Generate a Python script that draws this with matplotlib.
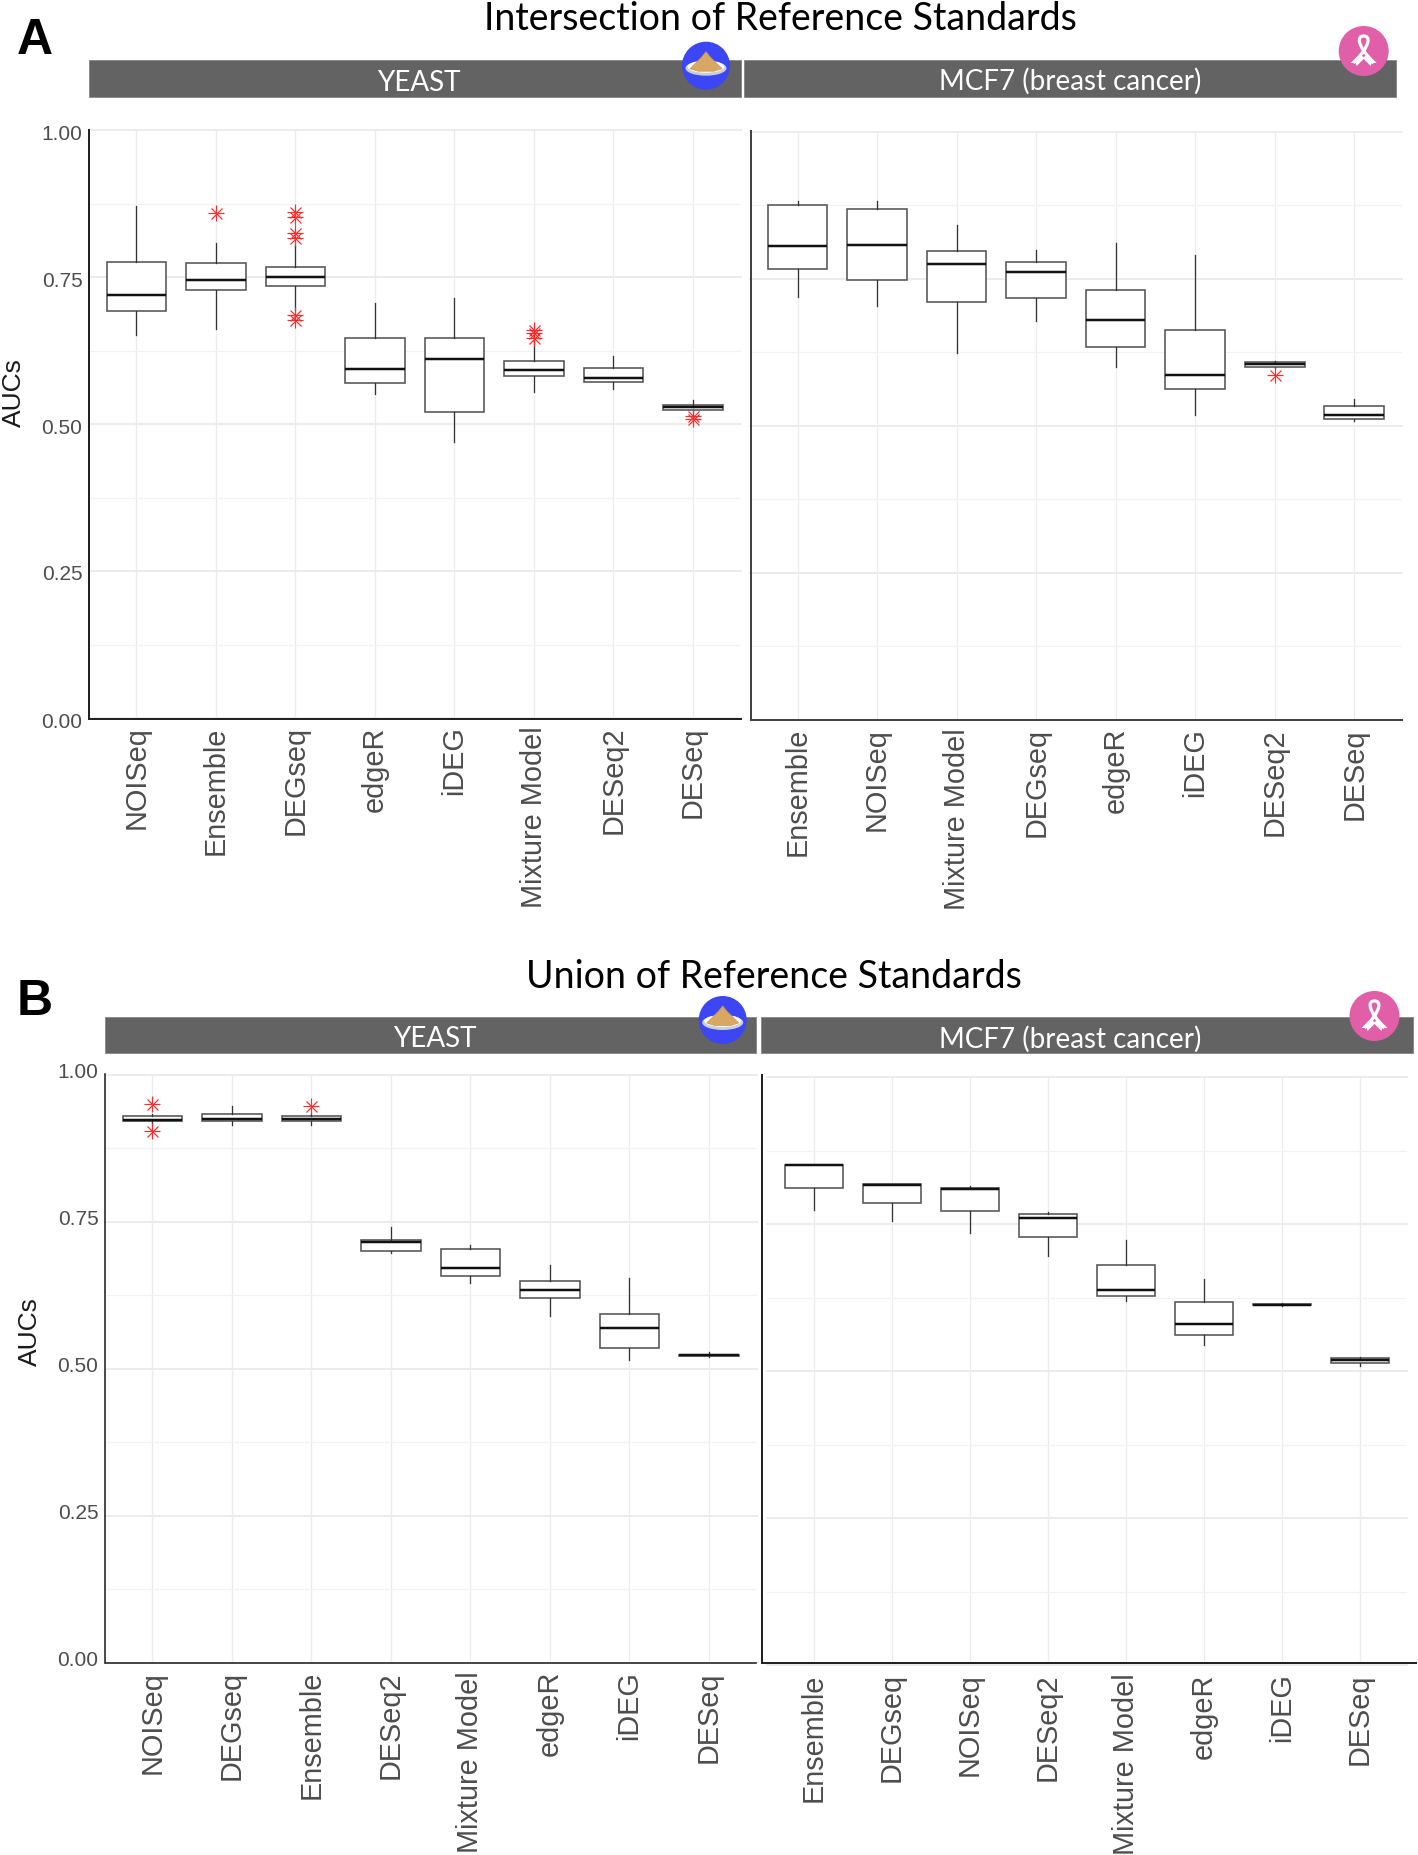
"""
AUC boxplots for the intersection / union reference standards
output: out.png
"""
import matplotlib
matplotlib.use("Agg")
import matplotlib.pyplot as plt
from matplotlib.patches import Circle, Ellipse, Polygon, Rectangle, PathPatch
from matplotlib.path import Path
from matplotlib.transforms import ScaledTranslation

W, H = 1418, 1855
plt.rcParams["font.family"] = ["Liberation Sans", "DejaVu Sans"]

# ── data: intersection, yeast ─────────────────────────────
a_yeast_names = ["NOISeq", "Ensemble", "DEGseq", "edgeR", "iDEG", "Mixture Model", "DESeq2", "DESeq"]
a_yeast_low = [0.651, 0.662, 0.694, 0.551, 0.469, 0.555, 0.559, 0.522]
a_yeast_q1 = [0.693, 0.728, 0.734, 0.570, 0.520, 0.581, 0.571, 0.524]
a_yeast_med = [0.720, 0.745, 0.750, 0.593, 0.611, 0.592, 0.579, 0.529]
a_yeast_q3 = [0.776, 0.773, 0.767, 0.646, 0.647, 0.607, 0.595, 0.533]
a_yeast_high = [0.870, 0.808, 0.805, 0.706, 0.714, 0.643, 0.616, 0.540]
a_yeast_out = [[], [0.858], [0.861, 0.852, 0.824, 0.816, 0.686, 0.677], [], [],
               [0.660, 0.655, 0.646], [], [0.513, 0.508]]

# ── data: intersection, MCF7 ──────────────────────────────
a_mcf_names = ["Ensemble", "NOISeq", "Mixture Model", "DEGseq", "edgeR", "iDEG", "DESeq2", "DESeq"]
a_mcf_low = [0.719, 0.704, 0.624, 0.678, 0.600, 0.519, 0.598, 0.508]
a_mcf_q1 = [0.766, 0.747, 0.710, 0.718, 0.633, 0.562, 0.600, 0.511]
a_mcf_med = [0.805, 0.808, 0.775, 0.761, 0.680, 0.587, 0.605, 0.519]
a_mcf_q3 = [0.876, 0.868, 0.797, 0.779, 0.730, 0.662, 0.608, 0.534]
a_mcf_high = [0.882, 0.882, 0.841, 0.799, 0.810, 0.790, 0.610, 0.546]
a_mcf_out = [[], [], [], [], [], [], [0.587], []]

# ── data: union, yeast ────────────────────────────────────
b_yeast_names = ["NOISeq", "DEGseq", "Ensemble", "DESeq2", "Mixture Model", "edgeR", "iDEG", "DESeq"]
b_yeast_low = [0.917, 0.914, 0.915, 0.696, 0.645, 0.590, 0.515, 0.520]
b_yeast_q1 = [0.921, 0.921, 0.921, 0.700, 0.658, 0.621, 0.535, 0.522]
b_yeast_med = [0.923, 0.925, 0.925, 0.716, 0.671, 0.633, 0.569, 0.523]
b_yeast_q3 = [0.930, 0.934, 0.930, 0.719, 0.704, 0.650, 0.593, 0.524]
b_yeast_high = [0.934, 0.946, 0.934, 0.741, 0.711, 0.676, 0.654, 0.528]
b_yeast_out = [[0.950, 0.904], [], [0.946], [], [], [], [], []]

# ── data: union, MCF7 ─────────────────────────────────────
b_mcf_names = ["Ensemble", "DEGseq", "NOISeq", "DESeq2", "Mixture Model", "edgeR", "iDEG", "DESeq"]
b_mcf_low = [0.774, 0.755, 0.734, 0.695, 0.619, 0.544, 0.611, 0.508]
b_mcf_q1 = [0.812, 0.786, 0.772, 0.728, 0.628, 0.562, 0.612, 0.513]
b_mcf_med = [0.850, 0.817, 0.810, 0.761, 0.637, 0.580, 0.613, 0.518]
b_mcf_q3 = [0.851, 0.818, 0.812, 0.767, 0.680, 0.618, 0.614, 0.522]
b_mcf_high = [0.851, 0.818, 0.814, 0.771, 0.723, 0.657, 0.615, 0.524]
b_mcf_out = [[], [], [], [], [], [], [], []]

y_ticks = [0.0, 0.25, 0.5, 0.75, 1.0]
y_labels = ["0.00", "0.25", "0.50", "0.75", "1.00"]
y_minor = [0.125, 0.375, 0.625, 0.875]

fig = plt.figure(figsize=(W / 100, H / 100), dpi=100, facecolor="white")

PX = 0.72  # one pixel, in points


def panel(x0, x1, y_top, names, low, q1, med, q3, high, out, show_y=False, dy=0):
    y_bot = y_top + 588
    ax = fig.add_axes([x0 / W, 1 - y_bot / H, (x1 - x0) / W, (y_bot - y_top) / H])
    stats = [
        {"whislo": a, "q1": b, "med": c, "q3": d, "whishi": e, "fliers": []}
        for a, b, c, d, e in zip(low, q1, med, q3, high)
    ]
    ax.bxp(stats, positions=range(1, 9), widths=0.75, patch_artist=True, showcaps=False,
           showfliers=False, zorder=3,
           boxprops={"facecolor": "white", "edgecolor": "#555555", "linewidth": 1.6 * PX},
           whiskerprops={"color": "#333333", "linewidth": 1.3 * PX},
           medianprops={"color": "#111111", "linewidth": 2.5 * PX})
    # pch=8 outliers: + and x on top of each other
    for i, vals in enumerate(out):
        if vals:
            xs = [i + 1] * len(vals)
            ax.plot(xs, vals, ls="", marker="+", ms=15.5 * PX, mew=1.2 * PX, color="#ff2a2a", zorder=4)
            ax.plot(xs, vals, ls="", marker="x", ms=11 * PX, mew=1.2 * PX, color="#ff2a2a", zorder=4)

    ax.set_xlim(0.4, 8.6)
    ax.set_ylim(0, 1)
    ax.set_xticks(range(1, 9))
    ax.set_xticklabels(names, rotation=90, fontsize=20.8, color="#4d4d4d")
    ax.set_yticks(y_ticks)
    ax.set_yticks(y_minor, minor=True)
    ax.grid(axis="x", color="#ececec", linewidth=1.3 * PX, zorder=0)
    ax.grid(axis="y", which="major", color="#ececec", linewidth=2 * PX, zorder=0)
    ax.grid(axis="y", which="minor", color="#f2f2f2", linewidth=1.3 * PX, zorder=0)
    for tick in ax.yaxis.get_major_ticks():
        tick.gridline.set_clip_on(False)
    ax.set_axisbelow(True)
    ax.tick_params(axis="both", which="both", length=0)
    ax.tick_params(axis="x", pad=6)
    if show_y:
        ax.set_yticklabels(y_labels, fontsize=15, color="#4d4d4d")
        ax.tick_params(axis="y", pad=4.5)
        shift = ScaledTranslation(0, -dy * PX / 72, fig.dpi_scale_trans)
        for lab in ax.get_yticklabels():
            lab.set_transform(lab.get_transform() + shift)
    else:
        ax.set_yticklabels([])
    ax.spines[["top", "right", "left", "bottom"]].set_visible(False)
    return ax


panel(88.7, 740.6, 130, a_yeast_names, a_yeast_low, a_yeast_q1, a_yeast_med, a_yeast_q3, a_yeast_high,
      a_yeast_out, show_y=True, dy=2)
panel(749.8, 1402, 131.7, a_mcf_names, a_mcf_low, a_mcf_q1, a_mcf_med, a_mcf_q3, a_mcf_high, a_mcf_out)
panel(104.7, 756.6, 1074.7, b_yeast_names, b_yeast_low, b_yeast_q1, b_yeast_med, b_yeast_q3, b_yeast_high,
      b_yeast_out, show_y=True, dy=-4)
panel(767.2, 1406.8, 1077, b_mcf_names, b_mcf_low, b_mcf_q1, b_mcf_med, b_mcf_q3, b_mcf_high, b_mcf_out)

# ── overlay in pixel coordinates: strips, axis lines, titles, icons ───
top = fig.add_axes([0, 0, 1, 1], zorder=10)
top.set_xlim(0, W)
top.set_ylim(H, 0)
top.axis("off")
top.patch.set_alpha(0)

STRIP = "#636363"
for x0, x1, y0, y1 in [(88.7, 740.6, 60.3, 97.3), (744, 1396, 60.3, 97.3),
                       (104.7, 756, 1016.7, 1053.3), (761.4, 1413, 1016.7, 1053.3)]:
    top.add_patch(Rectangle((x0, y0), x1 - x0, y1 - y0, facecolor=STRIP, edgecolor="#8a8a8a", linewidth=0.7))

# axis lines (x_left, y_top, y_bottom, x_right, colour)
for xl, yt, yb, xr, c, lw in [(88.7, 130, 718.5, 740.6, "#222222", 2),
                              (750.8, 131, 720, 1402, "#444444", 2),
                              (104.7, 1074, 1662.7, 756, "#222222", 1.6),
                              (762.3, 1075, 1663.3, 1415.7, "#222222", 2)]:
    top.plot([xl, xl, xr], [yt, yb, yb], color=c, linewidth=lw * PX, solid_joinstyle="miter")

TITLE_FONT = ["Lato", "DejaVu Sans"]
top.text(780, 19, "Intersection of Reference Standards", ha="center", va="center",
         fontsize=27, family=TITLE_FONT, color="black")
top.text(774, 977, "Union of Reference Standards", ha="center", va="center",
         fontsize=27, family=TITLE_FONT, color="black")
top.text(418.7, 83, "YEAST", ha="center", va="center", fontsize=20, family=TITLE_FONT, color="white")
top.text(434.5, 1039, "YEAST", ha="center", va="center", fontsize=20, family=TITLE_FONT, color="white")
top.text(1070, 81, "MCF7 (breast cancer)", ha="center", va="center", fontsize=20, family=TITLE_FONT, color="white")
top.text(1070, 1039, "MCF7 (breast cancer)", ha="center", va="center", fontsize=20, family=TITLE_FONT, color="white")

top.text(34.5, 41, "A", ha="center", va="center", fontsize=36, fontweight="bold", color="black")
top.text(34.5, 1002, "B", ha="center", va="center", fontsize=36, fontweight="bold", color="black")
top.text(14, 393, "AUCs", rotation=90, ha="center", va="center", fontsize=19, color="#1a1a1a")
top.text(30, 1332, "AUCs", rotation=90, ha="center", va="center", fontsize=19, color="#1a1a1a")


def yeast_icon(cx, cy):
    top.add_patch(Circle((cx, cy), 24, facecolor="#3d46f5", edgecolor="none"))
    top.add_patch(Ellipse((cx, cy + 2.5), 41, 15, facecolor="#c9cfd6", edgecolor="none"))
    top.add_patch(Ellipse((cx, cy + 1), 37, 12, facecolor="white", edgecolor="none"))
    top.add_patch(Polygon([(cx, cy - 14), (cx + 4, cy - 9), (cx + 16, cy + 3), (cx + 8, cy + 5.5), (cx - 8, cy + 5.5),
                           (cx - 16, cy + 3), (cx - 4, cy - 9)],
                          closed=True, facecolor="#d8a862", edgecolor="#c9964f", linewidth=0.5))


def ribbon_icon(cx, cy):
    top.add_patch(Circle((cx, cy), 25, facecolor="#e05fa8", edgecolor="none"))
    loop = Path([(cx + 10, cy + 12), (cx - 7, cy - 6), (cx - 7, cy - 15), (cx, cy - 15),
                 (cx + 7, cy - 15), (cx + 7, cy - 6), (cx - 10, cy + 12)],
                [Path.MOVETO, Path.CURVE4, Path.CURVE4, Path.CURVE4, Path.CURVE4, Path.CURVE4, Path.CURVE4])
    top.add_patch(PathPatch(loop, facecolor="none", edgecolor="white", linewidth=3.2 * PX))
    for sx in (-1, 1):
        top.add_patch(Polygon([(cx + sx * 4, cy + 3), (cx + sx * 13, cy + 12), (cx + sx * 8, cy + 12),
                               (cx + sx * 7, cy + 15), (cx - sx * 1, cy + 7)],
                              closed=True, facecolor="white", edgecolor="none"))


yeast_icon(706, 65.7)
yeast_icon(722.7, 1020)
ribbon_icon(1363.7, 51)
ribbon_icon(1374.5, 1016)

fig.savefig("out.png", dpi=100)
plt.close(fig)
